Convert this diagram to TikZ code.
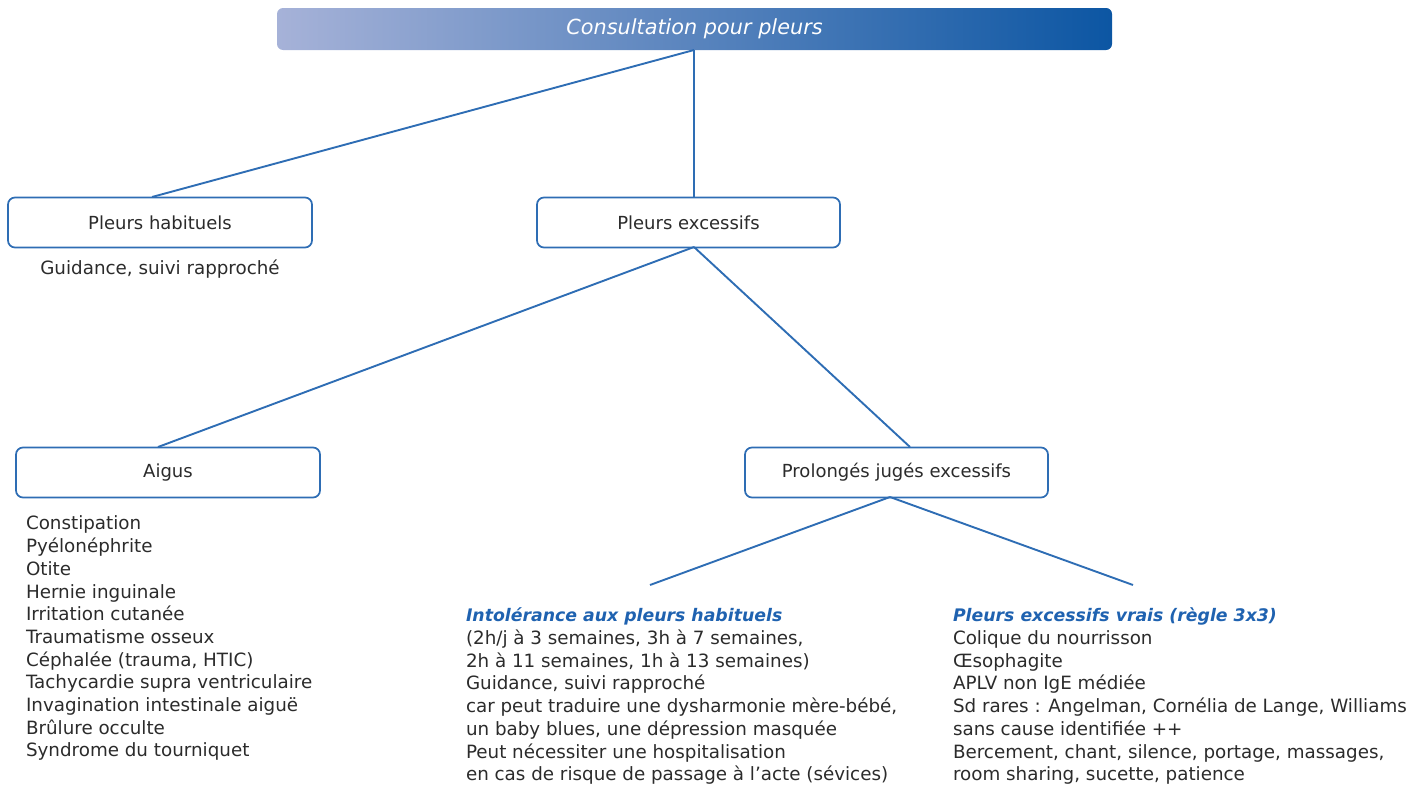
\documentclass[tikz,border=0pt]{standalone}
\usepackage{fontspec}
\setmainfont{DejaVu Sans}
\begin{document}
\begin{tikzpicture}[x=1pt,y=-1pt,
  every node/.style={inner sep=0pt, outer sep=0pt},
  conn/.style={draw=linec, line width=1.9pt},
  box/.style={draw=linec, line width=1.7pt, rounded corners=7pt, fill=white, text=txt, font=\fontsize{18}{20}\selectfont},
  plain/.style={text=txt, font=\fontsize{18.3}{22.7}\selectfont, align=left, anchor=north west}
]
\definecolor{linec}{HTML}{2E6DB4}
\definecolor{txt}{HTML}{2B2B2B}
\definecolor{headc}{HTML}{1F62B0}
\definecolor{gl}{HTML}{A6B2D8}
\definecolor{gr}{HTML}{0C56A3}
\newcommand{\hdtext}[1]{{\color{headc}\fontsize{17.3}{22.7}\selectfont\bfseries\itshape #1}}
\path[use as bounding box] (0,0) rectangle (1427,787);

\node[rounded corners=6pt, left color=gl, right color=gr, minimum width=835pt, minimum height=42pt, text=white, font=\fontsize{20.8}{24}\selectfont\itshape] (top) at (694.5,29) {Consultation pour pleurs};

\node[box, minimum width=304pt, minimum height=50pt] (hab) at (160,222.5) {Pleurs habituels};
\node[box, minimum width=303pt, minimum height=50pt] (exc) at (688.5,222.5) {Pleurs excessifs};
\node[box, minimum width=304pt, minimum height=50pt] (aig) at (168,472.5) {Aigus};
\node[box, minimum width=303pt, minimum height=50pt] (pro) at (896.5,472.5) {Prolongés jugés excessifs};

\node[text=txt, font=\fontsize{18.3}{22}\selectfont] (habt) at (160,269) {Guidance, suivi rapproché};

\coordinate (tb) at (694,50);
\draw[conn] (tb) -- (152,197);
\draw[conn] (tb) -- (694,197);
\coordinate (eb) at (694,247);
\draw[conn] (eb) -- (158,447);
\draw[conn] (eb) -- (910,447);
\coordinate (pb) at (890,497);
\coordinate (l1) at (650,585);
\coordinate (l2) at (1133,585);
\draw[conn] (pb) -- (l1);
\draw[conn] (pb) -- (l2);

\node[plain] (aigl) at (26,516) {Constipation\\Pyélonéphrite\\Otite\\Hernie inguinale\\Irritation cutanée\\Traumatisme osseux\\Céphalée (trauma, HTIC)\\Tachycardie supra ventriculaire\\Invagination intestinale aiguë\\Brûlure occulte\\Syndrome du tourniquet};

\node[plain] (t1) at (466,608) {\hdtext{Intolérance aux pleurs habituels}\\(2h/j à 3 semaines, 3h à 7 semaines,\\2h à 11 semaines, 1h à 13 semaines)\\Guidance, suivi rapproché\\car peut traduire une dysharmonie mère-bébé,\\un baby blues, une dépression masquée\\Peut nécessiter une hospitalisation\\en cas de risque de passage à l’acte (sévices)};

\node[plain] (t2) at (953,608) {\hdtext{Pleurs excessifs vrais (règle 3x3)}\\Colique du nourrisson\\Œsophagite\\APLV non IgE médiée\\Sd rares : Angelman, Cornélia de Lange, Williams\\sans cause identifiée ++\\Bercement, chant, silence, portage, massages,\\room sharing, sucette, patience};
\end{tikzpicture}
\end{document}
